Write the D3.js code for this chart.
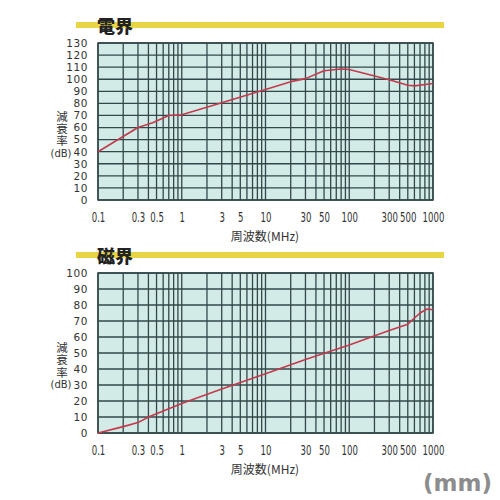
<!DOCTYPE html>
<html><head><meta charset="utf-8">
<script src="https://cdn.jsdelivr.net/npm/d3@7"></script>
<style>
html,body{margin:0;padding:0;background:#fff;}
svg{display:block;}
</style></head>
<body>
<svg id="chart" width="500" height="500"></svg>
<script>
// ---- data ----
const xTickValues = [0.1, 0.3, 0.5, 1, 3, 5, 10, 30, 50, 100, 300, 500, 1000];
const xTickLabels = ["0.1", "0.3", "0.5", "1", "3", "5", "10", "30", "50", "100", "300", "500", "1000"];
const eYTicks = [0, 10, 20, 30, 40, 50, 60, 70, 80, 90, 100, 110, 120, 130];
const hYTicks = [0, 10, 20, 30, 40, 50, 60, 70, 80, 90, 100];
const eFreq  = [0.1, 0.3, 0.45, 0.7, 1, 3, 10, 20, 30, 50, 80, 100, 300, 500, 600, 1000];
const eValue = [40, 60, 64, 70, 70.5, 80.5, 91.5, 98, 100.5, 107, 108.5, 108, 99.5, 95, 94.5, 96.5];
const hFreq  = [0.1, 0.2, 0.3, 0.4, 1, 3, 10, 30, 100, 300, 500, 700, 850, 1000];
const hValue = [0, 4, 6.5, 10, 18.5, 27.5, 37, 46, 55, 64, 68, 75, 77.5, 77];
const titles = ["電界", "磁界"];
const xTitle = "周波数(MHz)";
const yTitle = "減衰率";
const yUnit = "(dB)";
const unitNote = "(mm)";

const svg = d3.select("#chart");
const gridColor = "#33474a";
const fillColor = "#d3ebe7";
const lineColor = "#c23a4c";
const barColor = "#e8d444";
const textColor = "#333";

function drawPanel(cfg) {
  const {top, bottom, left, right, yMax, yTicks, freq, values, title, barY} = cfg;
  const x = d3.scaleLog().domain([0.1, 1000]).range([left, right]);
  const y = d3.scaleLinear().domain([0, yMax]).range([bottom, top]);
  const g = svg.append("g");

  // title bar
  g.append("rect").attr("x", 76).attr("y", barY).attr("width", 368).attr("height", 6).attr("fill", barColor);
  g.append("text").attr("x", 97).attr("y", barY + 11)
    .attr("font-family", "'Noto Sans CJK JP'").attr("font-weight", 900)
    .attr("font-size", 18).attr("fill", "#222").text(title);

  // plot background
  g.append("rect").attr("x", left).attr("y", top).attr("width", right - left).attr("height", bottom - top).attr("fill", fillColor);

  // vertical grid (log minors)
  const vlines = [];
  for (let d = 0.1; d < 1000; d *= 10) {
    for (let m = 1; m <= 9; m++) vlines.push(+(d * m).toPrecision(3));
  }
  vlines.push(1000);
  g.append("g").selectAll("line").data(vlines).join("line")
    .attr("x1", d => x(d)).attr("x2", d => x(d))
    .attr("y1", top).attr("y2", bottom)
    .attr("stroke", gridColor).attr("stroke-width", 1.3);

  // horizontal grid
  g.append("g").selectAll("line").data(yTicks).join("line")
    .attr("x1", left).attr("x2", right)
    .attr("y1", d => y(d)).attr("y2", d => y(d))
    .attr("stroke", gridColor).attr("stroke-width", 1.3);

  // border
  g.append("rect").attr("x", left).attr("y", top).attr("width", right - left).attr("height", bottom - top)
    .attr("fill", "none").attr("stroke", gridColor).attr("stroke-width", 1.5);

  // y axis labels
  const yAxis = d3.axisLeft(y).tickValues(yTicks).tickSize(0).tickPadding(10);
  const ya = g.append("g").attr("transform", `translate(${left},0)`).call(yAxis);
  ya.select(".domain").remove();
  ya.selectAll("text").attr("font-family", "'DejaVu Sans'").attr("font-size", 10.5)
    .attr("letter-spacing", 0.6).attr("fill", textColor);

  // x axis labels (condensed)
  const xAxis = d3.axisBottom(x).tickValues(xTickValues).tickSize(0).tickPadding(12)
    .tickFormat((d, i) => xTickLabels[i]);
  const xa = g.append("g").attr("transform", `translate(0,${bottom})`).call(xAxis);
  xa.select(".domain").remove();
  xa.selectAll("text").attr("font-family", "'Liberation Sans Narrow','DejaVu Sans Condensed','Liberation Sans'")
    .attr("font-size", 14).attr("transform", "scale(0.68,1)").attr("fill", textColor);

  // x title
  g.append("text").attr("x", 265).attr("y", bottom + 41).attr("text-anchor", "middle")
    .attr("font-family", "'Noto Sans CJK JP'").attr("font-size", 12).attr("fill", textColor).text(xTitle);

  // y title (vertical)
  const c0 = (top + bottom) / 2 - 5;
  g.append("text").attr("x", 62).attr("y", c0 - 6)
    .style("writing-mode", "vertical-rl").attr("letter-spacing", 0.8)
    .attr("font-family", "'Noto Sans CJK JP'").attr("font-size", 11.5).attr("fill", textColor).text(yTitle);
  g.append("text").attr("x", 61).attr("y", c0 + 40).attr("text-anchor", "middle")
    .attr("font-family", "'DejaVu Sans'").attr("font-size", 10).attr("fill", textColor).text(yUnit);

  // data line
  const line = d3.line().x(d => x(d[0])).y(d => y(d[1]));
  g.append("path").datum(freq.map((f, i) => [f, values[i]]))
    .attr("d", line).attr("fill", "none").attr("stroke", lineColor).attr("stroke-width", 1.6)
    .attr("stroke-linejoin", "round");
}

drawPanel({top: 43, bottom: 200, left: 98, right: 433, yMax: 130, yTicks: eYTicks,
  freq: eFreq, values: eValue, title: titles[0], barY: 22});
drawPanel({top: 273, bottom: 433, left: 98, right: 433, yMax: 100, yTicks: hYTicks,
  freq: hFreq, values: hValue, title: titles[1], barY: 252});

svg.append("text").attr("x", 492).attr("y", 491).attr("text-anchor", "end")
  .attr("font-family", "'DejaVu Sans'").attr("font-weight", "bold").attr("font-size", 23)
  .attr("fill", "#8c8c8c").text(unitNote);
</script>
</body></html>
